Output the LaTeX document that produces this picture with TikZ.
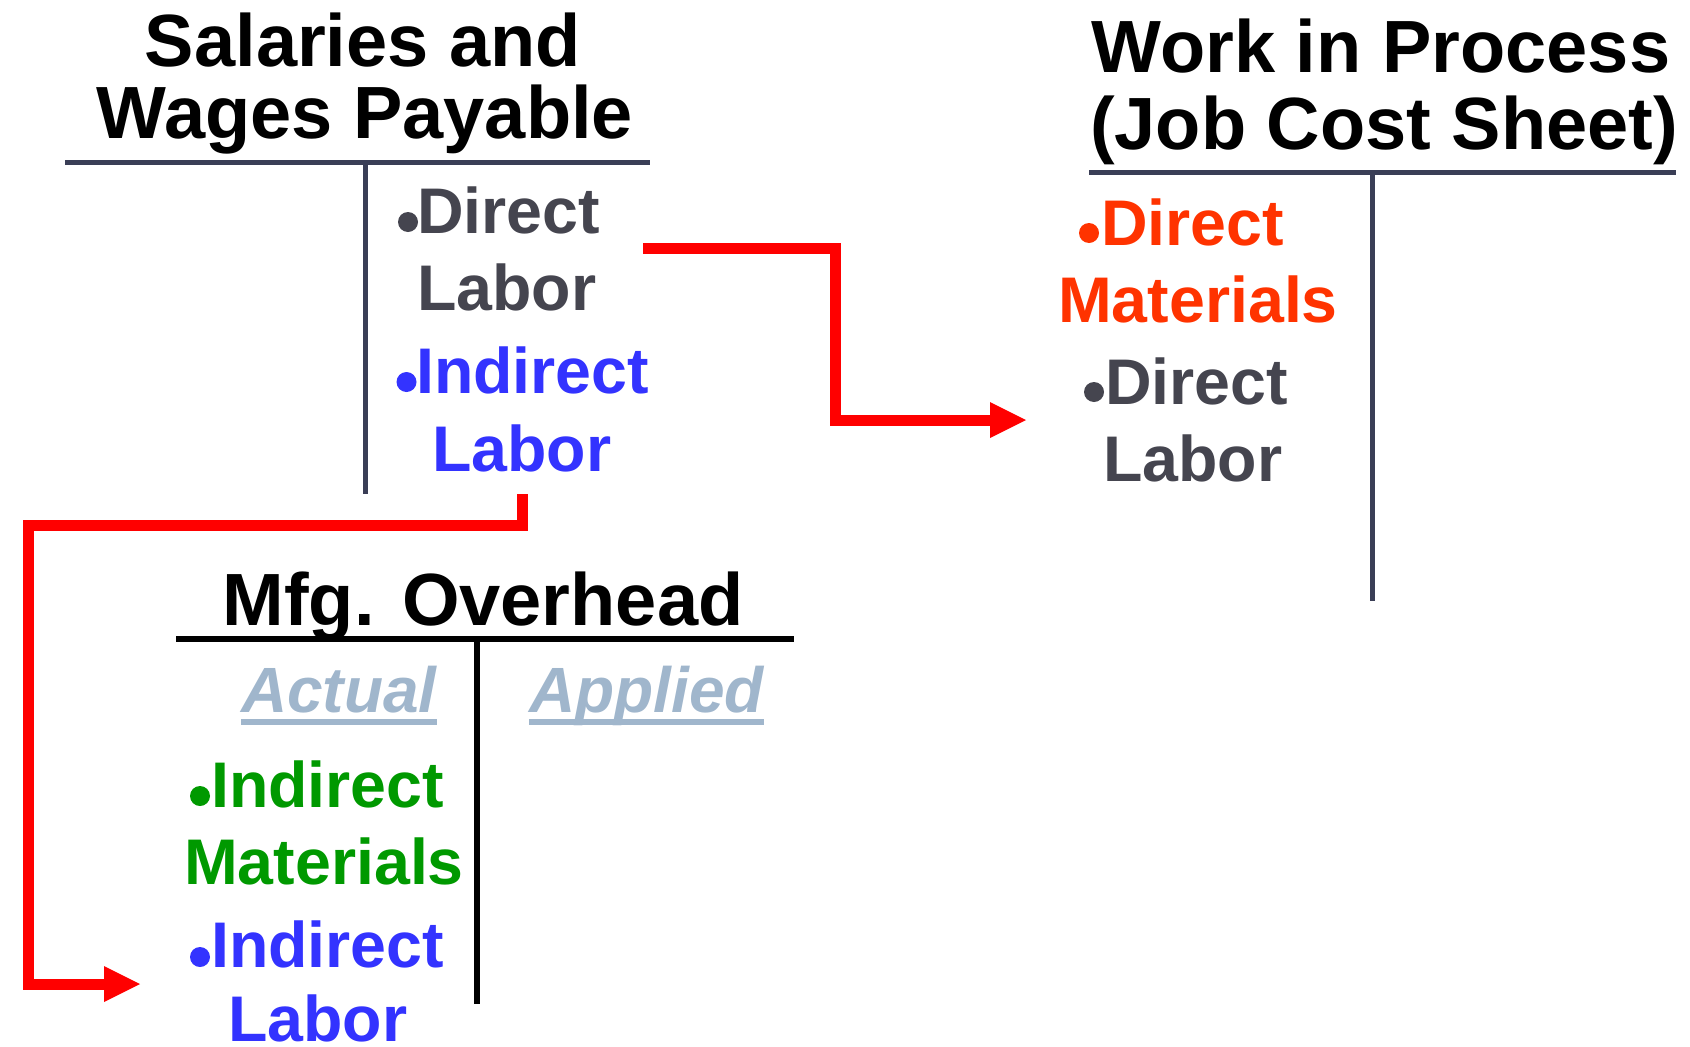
\documentclass[tikz,border=0pt]{standalone}
\usepackage{fontspec}
\setmainfont{Liberation Sans}
\usetikzlibrary{arrows.meta}
\definecolor{slate}{HTML}{3A3E56}
\definecolor{greytxt}{HTML}{45454F}
\definecolor{bluetxt}{HTML}{3333FF}
\definecolor{redtxt}{HTML}{FF3300}
\definecolor{greentxt}{HTML}{009900}
\definecolor{paleblue}{HTML}{A0B6CC}
\definecolor{arrowred}{HTML}{FF0000}
\begin{document}
\begin{tikzpicture}[x=1pt,y=-1pt,
  title/.style={anchor=base, inner sep=0pt, font=\fontsize{74}{74}\selectfont\bfseries},
  item/.style={anchor=base west, inner sep=0pt, font=\fontsize{64.5}{64.5}\selectfont\bfseries},
  colhead/.style={anchor=base west, inner sep=0pt, font=\fontsize{64}{64}\selectfont\bfseries\itshape, text=paleblue},
  tline/.style={line width=5pt, draw=slate},
  mline/.style={line width=5.5pt, draw=black},
  uline/.style={line width=6pt, draw=paleblue},
  bul/.style={circle, fill=#1, draw=none, inner sep=0pt, minimum size=20pt},
  flow/.style={draw=arrowred, line width=11pt, line join=miter,
    -{Triangle[length=36pt,width=36pt,line width=0pt]}}]
\useasboundingbox (0,0) rectangle (1690,1047);

% ---- Salaries and Wages Payable
\node[title] (st1) at (363,66) {Salaries and};
\node[title] (st2) at (365,138) {Wages Payable};
\coordinate (sl) at (65,162);
\coordinate (sr) at (650,162);
\coordinate (stop) at (365,162);
\coordinate (sbot) at (365,494);
\draw[tline] (sl) -- (sr);
\draw[tline] (stop) -- (sbot);
\node[bul=greytxt] (sb1) at (408,222) {};
\node[item, text=greytxt] (sd1) at (417,233) {Direct};
\node[item, text=greytxt] (sd2) at (417,310) {Labor};
\node[bul=bluetxt] (sb2) at (406.5,382) {};
\node[item, text=bluetxt] (si1) at (416,393) {Indirect};
\node[item, text=bluetxt] (si2) at (432,471) {Labor};

% ---- Work in Process
\node[title] (wt1) at (1381,72) {Work in Process};
\node[title] (wt2) at (1384,149) {(Job Cost Sheet)};
\coordinate (wl) at (1089,172);
\coordinate (wr) at (1676,172);
\coordinate (wtop) at (1372,172);
\coordinate (wbot) at (1372,601);
\draw[tline] (wl) -- (wr);
\draw[tline] (wtop) -- (wbot);
\node[bul=redtxt] (wb1) at (1089,233) {};
\node[item, text=redtxt] (wm1) at (1101,245) {Direct};
\node[item, text=redtxt] (wm2) at (1058,322) {Materials};
\node[bul=greytxt] (wb2) at (1094,392) {};
\node[item, text=greytxt] (wd1) at (1105,404) {Direct};
\node[item, text=greytxt] (wd2) at (1103,481) {Labor};

% ---- Mfg. Overhead
\node[title] (mt) at (483,625) {Mfg. Overhead};
\coordinate (ml) at (176,639);
\coordinate (mr) at (794,639);
\coordinate (mtop) at (477,639);
\coordinate (mbot) at (477,1004);
\draw[mline] (ml) -- (mr);
\draw[mline] (mtop) -- (mbot);
\node[colhead] (act) at (241,712) {Actual};
\node[colhead] (app) at (529,712) {Applied};
\draw[uline] ([yshift=-10pt]act.base west) -- ([yshift=-10pt]act.base east);
\draw[uline] ([yshift=-10pt]app.base west) -- ([yshift=-10pt]app.base east);
\node[bul=greentxt] (mb1) at (200,796) {};
\node[item, text=greentxt] (mi1) at (211,807) {Indirect};
\node[item, text=greentxt] (mi2) at (184,884) {Materials};
\node[bul=bluetxt] (mb2) at (200,957) {};
\node[item, text=bluetxt] (mli1) at (211,967) {Indirect};
\node[item, text=bluetxt] (mli2) at (228,1041) {Labor};

% ---- connectors
\coordinate (a1s) at (643,248);
\coordinate (a1e) at (1026,420);
\draw[flow] (a1s) -- ++(192,0) |- (a1e);
\coordinate (a2s) at (522,494);
\coordinate (a2e) at (140,984);
\draw[flow] (a2s) |- ++(-494,31) |- (a2e);
\end{tikzpicture}
\end{document}
